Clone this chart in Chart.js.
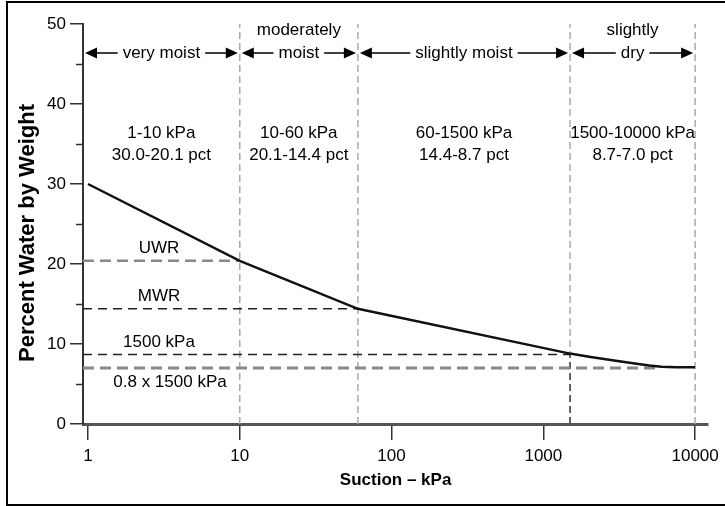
<!DOCTYPE html>
<html>
<head>
<meta charset="utf-8">
<script src="https://cdn.jsdelivr.net/npm/chart.js@4.4.1/dist/chart.umd.min.js"></script>
<style>
body{margin:0;background:#fff;}
#wrap{position:relative;width:725px;height:506px;overflow:hidden;background:#fff;}
#frame{position:absolute;left:6px;top:1px;width:740px;height:501px;border:2px solid #000;pointer-events:none;}
</style>
</head>
<body>
<div id="wrap"><canvas id="chart" width="725" height="506"></canvas><div id="frame"></div></div>
<script>
// water content vs suction
const suction = [1, 10, 60, 1500, 2000, 3000, 4000, 5000, 6000, 7500, 10000];
const water   = [30, 20.4, 14.4, 8.8, 8.4, 7.9, 7.55, 7.3, 7.15, 7.1, 7.1];

const xTicks = [1, 10, 100, 1000, 10000];
const yTicks = [0, 10, 20, 30, 40, 50];
const yMinorTicks = [5, 15, 25, 35, 45];

// moisture zones
const zoneBounds = [1, 10, 60, 1500, 10000];
const zoneNames = [['very moist'], ['moderately', 'moist'], ['slightly moist'], ['slightly', 'dry']];
const zoneKpa = ['1-10 kPa', '10-60 kPa', '60-1500 kPa', '1500-10000 kPa'];
const zonePct = ['30.0-20.1 pct', '20.1-14.4 pct', '14.4-8.7 pct', '8.7-7.0 pct'];

// reference levels
const refNames = ['UWR', 'MWR', '1500 kPa', '0.8 x 1500 kPa'];
const refLevels = [20.4, 14.4, 8.7, 7.0];
const refEnds = [10, 60, 1500, 5700];

const yTitle = 'Percent Water by Weight';
const xTitle = 'Suction – kPa';

const FONT = "'Liberation Sans', Arial, Helvetica, sans-serif";
const xMin = 0.927, xMax = 12200;

const refStyle = [
    {color:'#888', width:2.5, dash:[11,6]},
    {color:'#222', width:1.5, dash:[9,6]},
    {color:'#222', width:1.5, dash:[9,6]},
    {color:'#888', width:3, dash:[11,6]}
];

const datasets = [];
datasets.push({
    data: suction.map((s,i)=>({x:s, y:water[i]})),
    borderColor:'#111', borderWidth:2.5, pointRadius:0, tension:0, order:0
});
refLevels.forEach((lv,i)=>{
    datasets.push({
        data:[{x:xMin, y:lv},{x:refEnds[i], y:lv}],
        borderColor:refStyle[i].color, borderWidth:refStyle[i].width, borderDash:refStyle[i].dash,
        pointRadius:0, order:2
    });
});
zoneBounds.slice(1).forEach(b=>{
    datasets.push({
        data:[{x:b, y:0},{x:b, y:50}],
        borderColor:'#aaa', borderWidth:1.5, borderDash:[7,4], pointRadius:0, order:3
    });
});
// darker lower part at 1500 kPa
datasets.push({
    data:[{x:zoneBounds[3], y:0},{x:zoneBounds[3], y:refLevels[2]}],
    borderColor:'#444', borderWidth:1.5, borderDash:[7,4], pointRadius:0, order:2
});

const annotations = {
    id:'annotations',
    afterDatasetsDraw(chart){
        const ctx = chart.ctx, xs = chart.scales.x, ys = chart.scales.y, area = chart.chartArea;
        ctx.save();
        // minor ticks on y axis
        ctx.strokeStyle = '#333'; ctx.lineWidth = 1.5;
        yMinorTicks.forEach(v=>{
            const py = Math.round(ys.getPixelForValue(v)) + 0.5;
            ctx.beginPath(); ctx.moveTo(area.left - 7, py); ctx.lineTo(area.left, py); ctx.stroke();
        });

        ctx.fillStyle = '#000';
        ctx.font = '17px ' + FONT;
        ctx.textAlign = 'center'; ctx.textBaseline = 'middle';

        const arrowY = area.top + 29;
        for(let i=0;i<zoneNames.length;i++){
            const x0 = i===0 ? area.left : xs.getPixelForValue(zoneBounds[i]);
            const x1 = xs.getPixelForValue(zoneBounds[i+1]);
            const cx = (x0 + x1) / 2;
            const names = zoneNames[i];
            names.forEach((n,j)=>{
                ctx.fillText(n, cx, arrowY - (names.length-1-j)*23);
            });
            const w = ctx.measureText(names[names.length-1]).width;
            // arrows
            ctx.strokeStyle = '#000'; ctx.lineWidth = 1.5;
            ctx.beginPath();
            ctx.moveTo(x0 + 12, arrowY); ctx.lineTo(cx - w/2 - 5, arrowY);
            ctx.moveTo(cx + w/2 + 5, arrowY); ctx.lineTo(x1 - 12, arrowY);
            ctx.stroke();
            ctx.beginPath();
            ctx.moveTo(x0 + 2, arrowY); ctx.lineTo(x0 + 14, arrowY - 5.5); ctx.lineTo(x0 + 14, arrowY + 5.5); ctx.closePath();
            ctx.moveTo(x1 - 2, arrowY); ctx.lineTo(x1 - 14, arrowY - 5.5); ctx.lineTo(x1 - 14, arrowY + 5.5); ctx.closePath();
            ctx.fill();

            ctx.fillText(zoneKpa[i], cx, area.top + 109);
            ctx.fillText(zonePct[i], cx, area.top + 131);
        }

        // labels for reference levels
        refNames.forEach((n,i)=>{
            const py = ys.getPixelForValue(refLevels[i]);
            const last = i === refNames.length - 1;
            ctx.fillText(n, area.left + (last ? 87 : 76), last ? py + 14 : py - 12);
        });

        // y axis title
        ctx.font = 'bold 22px ' + FONT;
        ctx.translate(28, (area.top + area.bottom) / 2 + 9);
        ctx.rotate(-Math.PI / 2);
        ctx.fillText(yTitle, 0, 0);
        ctx.restore();
    }
};

new Chart(document.getElementById('chart'), {
    type:'line',
    data:{datasets},
    plugins:[annotations],
    options:{
        responsive:false,
        animation:false,
        layout:{padding:{top:24, right:12, left:0, bottom:0}},
        plugins:{legend:{display:false}, tooltip:{enabled:false}},
        scales:{
            x:{
                type:'logarithmic', min:xMin, max:xMax,
                afterBuildTicks:s=>{ s.ticks = xTicks.map(v=>({value:v})); },
                afterFit:s=>{ s.height = 82; },
                ticks:{ callback:v=>String(v), font:{family:FONT, size:17}, color:'#000', padding:6, maxRotation:0, autoSkip:false },
                grid:{ drawOnChartArea:false, drawTicks:true, tickLength:16, color:'#333', lineWidth:1.5 },
                border:{ color:'#555', width:3 },
                title:{ display:true, text:xTitle, font:{family:FONT, size:17, weight:'bold'}, color:'#000', padding:{top:0, bottom:15} }
            },
            y:{
                min:0, max:50,
                afterBuildTicks:s=>{ s.ticks = yTicks.map(v=>({value:v})); },
                afterFit:s=>{ s.width = 83; },
                ticks:{ font:{family:FONT, size:17}, color:'#000', padding:4 },
                grid:{ drawOnChartArea:false, drawTicks:true, tickLength:13, color:'#333', lineWidth:1.5 },
                border:{ color:'#333', width:2 }
            }
        }
    }
});
</script>
</body>
</html>
